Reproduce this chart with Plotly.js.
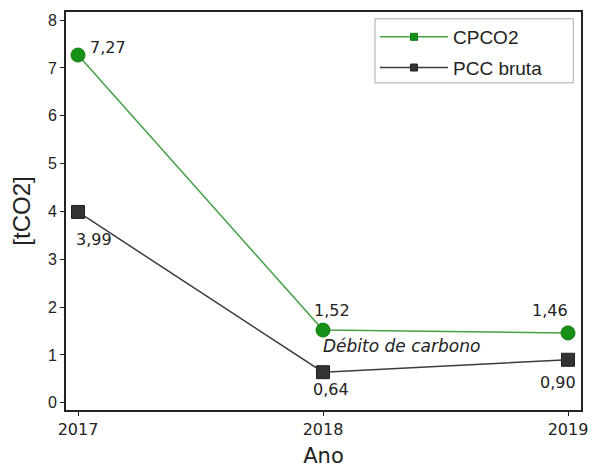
<!DOCTYPE html>
<html><head><meta charset="utf-8">
<script src="https://cdn.plot.ly/plotly-3.0.1.min.js"></script>
<style>html,body{margin:0;padding:0;background:#fff}#c{width:592px;height:468px}</style>
</head><body><div id="c"></div>
<script>
const years = [2017, 2018, 2019];
const cpco2 = [7.27, 1.52, 1.46];
const pccBruta = [3.99, 0.64, 0.90];
const seriesNames = ['CPCO2', 'PCC bruta'];
const yTicks = [0, 1, 2, 3, 4, 5, 6, 7, 8];
const noteText = 'Débito de carbono';

const fmt = v => v.toFixed(2).replace('.', ',');
const sans = 'Liberation Sans, Arial, sans-serif';
const wide = 'DejaVu Sans, Verdana, sans-serif';
const ink = '#222';

const green = {line: '#45a045', fill: '#169016', edge: '#0f7d0f'};
const gray = {line: '#3c3c3c', fill: '#333333', edge: '#222222'};

const traces = [
  {x: years, y: cpco2, name: seriesNames[0], mode: 'lines+markers', showlegend: false,
   line: {color: green.line, width: 1.5},
   marker: {symbol: 'circle', size: 14, color: green.fill, line: {color: green.edge, width: 1}}},
  {x: years, y: pccBruta, name: seriesNames[1], mode: 'lines+markers', showlegend: false,
   line: {color: gray.line, width: 1.5},
   marker: {symbol: 'square', size: 13, color: gray.fill, line: {color: gray.edge, width: 1}}},
  // legend-only entries (small markers as in the reference legend)
  {x: [null], y: [null], name: seriesNames[0], mode: 'lines+markers', legendgroup: 'a',
   line: {color: green.line, width: 1.5},
   marker: {symbol: 'square', size: 7, color: green.fill, line: {color: green.edge, width: 1}}},
  {x: [null], y: [null], name: seriesNames[1], mode: 'lines+markers', legendgroup: 'b',
   line: {color: gray.line, width: 1.5},
   marker: {symbol: 'square', size: 7, color: gray.fill, line: {color: gray.edge, width: 1}}}
];

// label placement per point: [xshift, yshift, xanchor]
const cOff = [[10, 8, 'left'], [-11, 20, 'left'], [2, 22, 'right']];
const pOff = [[-4, -28, 'left'], [-12, -17, 'left'], [10, -23, 'right']];
const annotations = [];
years.forEach((yr, i) => {
  annotations.push({x: yr, y: cpco2[i], text: fmt(cpco2[i]), showarrow: false,
    xanchor: cOff[i][2], yanchor: 'middle', xshift: cOff[i][0], yshift: cOff[i][1],
    font: {family: wide, size: 16, color: ink}});
  annotations.push({x: yr, y: pccBruta[i], text: fmt(pccBruta[i]), showarrow: false,
    xanchor: pOff[i][2], yanchor: 'middle', xshift: pOff[i][0], yshift: pOff[i][1],
    font: {family: wide, size: 16, color: ink}});
});
annotations.push({x: years[1], y: (cpco2[1] + pccBruta[1]) / 2, text: '<i>' + noteText + '</i>',
  showarrow: false, xanchor: 'left', yanchor: 'middle', xshift: -2, yshift: 5,
  font: {family: wide, size: 17, color: ink}});

const layout = {
  width: 592, height: 468,
  margin: {l: 66, r: 11, t: 12, b: 58},
  paper_bgcolor: '#fff', plot_bgcolor: '#fff',
  showlegend: true,
  legend: {x: 0.600, y: 0.985, xanchor: 'left', yanchor: 'top',
    borderwidth: 0, bgcolor: 'rgba(0,0,0,0)',
    traceorder: 'grouped', tracegroupgap: 3, itemwidth: 68,
    font: {family: sans, size: 19, color: ink}},
  shapes: [{type: 'rect', xref: 'paper', yref: 'paper', x0: 0.600, x1: 0.985, y0: 0.822, y1: 0.983,
    line: {color: '#aaa', width: 1}, fillcolor: 'rgba(0,0,0,0)', layer: 'below'}],
  xaxis: {range: [2016.951, 2019.053], tickvals: years, ticktext: years.map(String),
    showgrid: false, zeroline: false, showline: true, linecolor: ink, linewidth: 2,
    mirror: true, ticks: 'outside', ticklen: 4, tickcolor: ink,
    tickfont: {family: wide, size: 16, color: ink},
    title: {text: 'Ano', font: {family: wide, size: 21, color: ink}, standoff: 14}},
  yaxis: {range: [-0.15, 8.17], tickvals: yTicks,
    showgrid: false, zeroline: false, showline: true, linecolor: ink, linewidth: 2,
    mirror: true, ticks: 'outside', ticklen: 4, tickcolor: ink,
    tickfont: {family: sans, size: 16, color: ink},
    title: {text: '[tCO2]', font: {family: sans, size: 24, color: ink}, standoff: 10}},
  annotations: annotations
};
Plotly.newPlot('c', traces, layout, {displayModeBar: false, staticPlot: true});
</script></body></html>
